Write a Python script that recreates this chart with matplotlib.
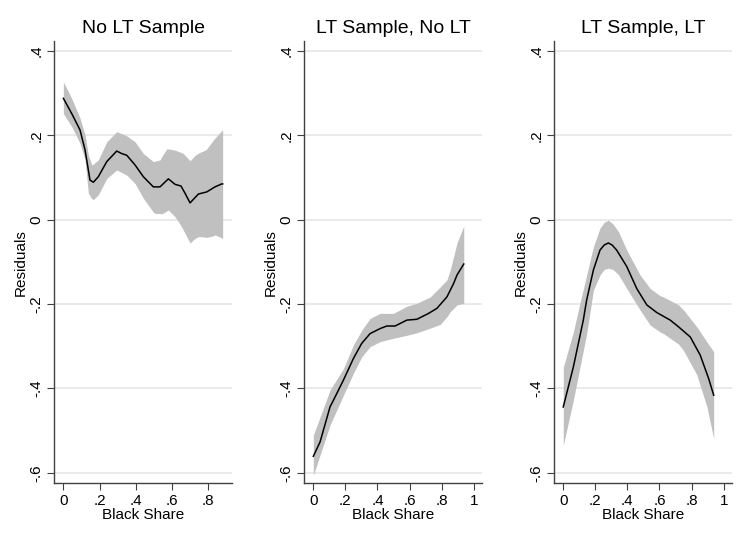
import numpy as np
import matplotlib
matplotlib.use("Agg")
import matplotlib.pyplot as plt

plt.rcParams['font.family'] = ['Liberation Sans', 'DejaVu Sans']

titles = ["No LT Sample", "LT Sample, No LT", "LT Sample, LT"]

# panel 1: No LT Sample
x1 = [0.0, 0.046, 0.092, 0.12, 0.138, 0.147, 0.166, 0.193, 0.24, 0.295, 0.322, 0.35,
      0.396, 0.442, 0.497, 0.534, 0.58, 0.617, 0.65, 0.672, 0.7, 0.746, 0.792, 0.838,
      0.875, 0.88]
fit1 = [0.288, 0.252, 0.213, 0.165, 0.118, 0.094, 0.089, 0.102, 0.138, 0.163, 0.157,
        0.153, 0.13, 0.102, 0.078, 0.078, 0.097, 0.084, 0.08, 0.063, 0.04, 0.061, 0.066,
        0.078, 0.085, 0.085]
bx1 = [0.0, 0.046, 0.092, 0.12, 0.138, 0.157, 0.166, 0.193, 0.24, 0.295, 0.35, 0.396,
       0.442, 0.497, 0.507, 0.534, 0.544, 0.571, 0.58, 0.617, 0.654, 0.663, 0.7, 0.728,
       0.746, 0.783, 0.792, 0.829, 0.838, 0.879]
hi1 = [0.327, 0.288, 0.241, 0.201, 0.153, 0.13, 0.132, 0.142, 0.185, 0.209, 0.199, 0.185,
       0.157, 0.138, 0.139, 0.142, 0.15, 0.168, 0.168, 0.165, 0.159, 0.157, 0.14, 0.153,
       0.158, 0.165, 0.168, 0.189, 0.194, 0.213]
lo1 = [0.252, 0.221, 0.181, 0.142, 0.063, 0.05, 0.048, 0.059, 0.098, 0.118, 0.106, 0.086,
       0.051, 0.018, 0.015, 0.015, 0.014, 0.021, 0.023, 0.007, -0.017, -0.025, -0.055,
       -0.044, -0.04, -0.041, -0.042, -0.038, -0.036, -0.044]

# panel 2: LT Sample, No LT
x2 = [0.0, 0.042, 0.104, 0.136, 0.188, 0.25, 0.302, 0.354, 0.417, 0.458, 0.51, 0.583,
      0.646, 0.719, 0.771, 0.833, 0.875, 0.896, 0.938]
fit2 = [-0.561, -0.527, -0.444, -0.42, -0.38, -0.329, -0.293, -0.27, -0.258, -0.252,
        -0.252, -0.238, -0.236, -0.222, -0.21, -0.183, -0.151, -0.131, -0.105]
bx2 = [0.0, 0.104, 0.188, 0.25, 0.302, 0.354, 0.417, 0.5, 0.583, 0.646, 0.729, 0.792,
       0.833, 0.854, 0.896, 0.938]
hi2 = [-0.511, -0.404, -0.353, -0.297, -0.262, -0.234, -0.222, -0.222, -0.205, -0.198,
       -0.183, -0.159, -0.143, -0.119, -0.055, -0.015]
lo2 = [-0.606, -0.487, -0.416, -0.364, -0.325, -0.301, -0.289, -0.281, -0.274, -0.268,
       -0.257, -0.248, -0.23, -0.218, -0.202, -0.198]

# panel 3: LT Sample, LT
x3 = [0.0, 0.063, 0.125, 0.146, 0.188, 0.229, 0.255, 0.281, 0.305, 0.333, 0.396, 0.458,
      0.521, 0.583, 0.667, 0.719, 0.792, 0.854, 0.906, 0.938]
fit3 = [-0.444, -0.349, -0.238, -0.19, -0.119, -0.072, -0.06, -0.055, -0.06, -0.072,
        -0.111, -0.163, -0.202, -0.22, -0.238, -0.254, -0.278, -0.321, -0.376, -0.416]
bx3 = [0.0, 0.063, 0.104, 0.146, 0.188, 0.229, 0.255, 0.281, 0.31, 0.344, 0.396, 0.479,
       0.542, 0.604, 0.625, 0.719, 0.75, 0.833, 0.896, 0.938]
hi3 = [-0.35, -0.266, -0.198, -0.131, -0.064, -0.02, -0.006, -0.001, -0.01, -0.028,
       -0.072, -0.131, -0.163, -0.18, -0.183, -0.202, -0.214, -0.254, -0.29, -0.313]
lo3 = [-0.535, -0.428, -0.35, -0.27, -0.167, -0.131, -0.118, -0.115, -0.118, -0.13,
       -0.163, -0.214, -0.25, -0.266, -0.27, -0.295, -0.31, -0.368, -0.444, -0.519]

panels = [(x1, fit1, bx1, hi1, lo1), (x2, fit2, bx2, hi2, lo2), (x3, fit3, bx3, hi3, lo3)]
xticks = [[0, 0.2, 0.4, 0.6, 0.8], [0, 0.2, 0.4, 0.6, 0.8, 1], [0, 0.2, 0.4, 0.6, 0.8, 1]]
xlims = [(-0.05, 0.93), (-0.056, 1.05), (-0.056, 1.05)]
yticks = [-0.6, -0.4, -0.2, 0, 0.2, 0.4]


def fmt(v):
    s = f"{v:g}"
    return s.replace("0.", ".")


fig = plt.figure(figsize=(7.36, 5.37), dpi=100)
lefts = [0.0738, 0.4135, 0.7531]

for i, (x, fit, bx, hi, lo) in enumerate(panels):
    ax = fig.add_axes([lefts[i], 0.1, 0.241, 0.8237])
    # band on a common grid so the fill lines up
    grid = np.union1d(bx, x)
    ax.fill_between(grid, np.interp(grid, bx, lo), np.interp(grid, bx, hi),
                    color="#c0c0c0", linewidth=0, zorder=2)
    ax.plot(x, fit, color="black", linewidth=1.1, zorder=3)

    ax.set_xlim(*xlims[i])
    ax.set_ylim(-0.625, 0.424)
    ax.set_yticks(yticks)
    ax.set_yticklabels([fmt(v) for v in yticks], rotation=90, va="center")
    ax.set_xticks(xticks[i])
    ax.set_xticklabels([fmt(v) for v in xticks[i]])
    ax.grid(axis="y", color="#e6e6e6", linewidth=1.2, zorder=0)
    ax.set_axisbelow(True)
    for side in ["top", "right"]:
        ax.spines[side].set_visible(False)
    for side in ["left", "bottom"]:
        ax.spines[side].set_color("#404040")
        ax.spines[side].set_linewidth(1.0)
    ax.tick_params(axis="both", length=5, width=0.8, color="#404040",
                   labelsize=11, labelcolor="black", pad=3)
    ax.set_xlabel("Black Share", fontsize=11, labelpad=0)
    ax.set_ylabel("Residuals", fontsize=11, labelpad=1)
    ax.set_title(titles[i], fontsize=14, pad=6)

fig.savefig("out.png", dpi=100)
